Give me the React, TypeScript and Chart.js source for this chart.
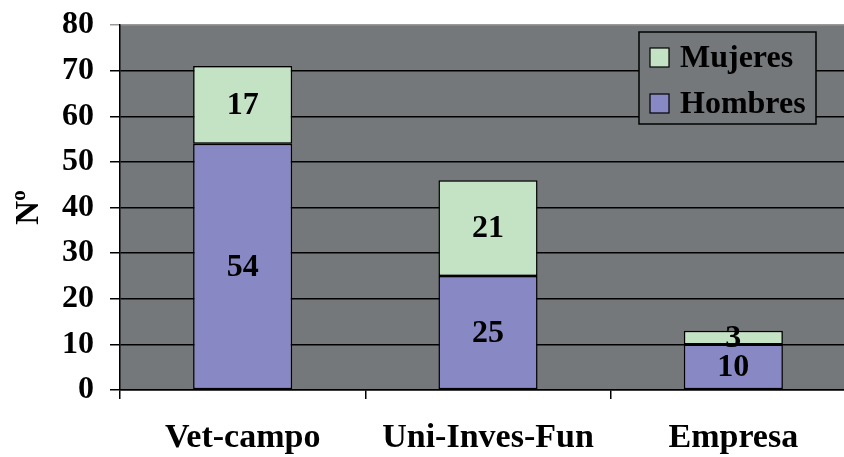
import React, { useEffect, useRef } from "react";
import { Chart, registerables } from "chart.js";

Chart.register(...registerables);

const categories = ["Vet-campo", "Uni-Inves-Fun", "Empresa"];
const hombres = [54, 25, 10];
const mujeres = [17, 21, 3];
const yTitle = "Nº";

const FONT = "'Liberation Serif', 'Times New Roman', serif";
const PLOT_BG = "#75787a";
const HOMBRES_COLOR = "#8889c4";
const MUJERES_COLOR = "#c3e3c4";

const bgPlugin = {
  id: "plotBg",
  beforeDraw(chart: any) {
    const { ctx, chartArea } = chart;
    ctx.save();
    ctx.fillStyle = PLOT_BG;
    ctx.fillRect(chartArea.left, chartArea.top, chartArea.right - chartArea.left, chartArea.bottom - chartArea.top);
    ctx.restore();
  },
};

const labelPlugin = {
  id: "segLabels",
  afterDatasetsDraw(chart: any) {
    const { ctx } = chart;
    ctx.save();
    ctx.font = `bold 32px ${FONT}`;
    ctx.fillStyle = "#000";
    ctx.textAlign = "center";
    ctx.textBaseline = "middle";
    chart.data.datasets.forEach((ds: any, di: number) => {
      const meta = chart.getDatasetMeta(di);
      meta.data.forEach((el: any, i: number) => {
        const cy = (el.y + el.base) / 2;
        ctx.fillText(String(ds.data[i]), el.x, cy + 1);
      });
    });
    ctx.restore();
  },
};

const legendPlugin = {
  id: "boxLegend",
  afterDraw(chart: any) {
    const { ctx, chartArea } = chart;
    const right = chartArea.right - 40;
    const top = chartArea.top + 7;
    const w = 177;
    const h = 92;
    const left = right - w;
    ctx.save();
    ctx.fillStyle = PLOT_BG;
    ctx.fillRect(left, top, w, h);
    ctx.strokeStyle = "#000";
    ctx.lineWidth = 1.5;
    ctx.strokeRect(left, top, w, h);
    const items = chart.data.datasets.map((d: any) => d).reverse();
    ctx.font = `bold 32px ${FONT}`;
    ctx.textBaseline = "middle";
    ctx.textAlign = "left";
    items.forEach((ds: any, i: number) => {
      const cy = top + 25.5 + i * 46;
      ctx.fillStyle = ds.backgroundColor;
      ctx.fillRect(left + 11, cy - 9.5, 19, 19);
      ctx.strokeStyle = "#000";
      ctx.lineWidth = 1.2;
      ctx.strokeRect(left + 11, cy - 9.5, 19, 19);
      ctx.fillStyle = "#000";
      ctx.fillText(ds.label, left + 41, cy + 1);
    });
    ctx.restore();
  },
};

export default function App() {
  const ref = useRef<HTMLCanvasElement>(null);
  useEffect(() => {
    if (!ref.current) return;
    const chart = new Chart(ref.current, {
      type: "bar",
      data: {
        labels: categories,
        datasets: [
          {
            label: "Hombres",
            data: hombres,
            backgroundColor: HOMBRES_COLOR,
            borderColor: "#000",
            borderWidth: 1.5,
            borderSkipped: false,
            categoryPercentage: 1,
            barPercentage: 0.404,
          },
          {
            label: "Mujeres",
            data: mujeres,
            backgroundColor: MUJERES_COLOR,
            borderColor: "#000",
            borderWidth: 1.5,
            borderSkipped: false,
            categoryPercentage: 1,
            barPercentage: 0.404,
          },
        ],
      },
      options: {
        responsive: false,
        animation: false,
        devicePixelRatio: 1,
        layout: { padding: { top: 25, left: 0, right: 0, bottom: 0 } },
        plugins: { legend: { display: false }, tooltip: { enabled: false } },
        scales: {
          x: {
            stacked: true,
            afterFit: (s: any) => {
              s.height = 67;
              s.paddingLeft = 0;
              s.paddingRight = 0;
            },
            grid: {
              drawOnChartArea: false,
              drawTicks: true,
              tickLength: 9,
              color: "#000",
              lineWidth: 1.5,
              offset: true,
            },
            border: { display: true, color: "#000", width: 1.5 },
            ticks: {
              color: "#000",
              padding: 19,
              font: { family: FONT, size: 34, weight: "bold" },
            },
          },
          y: {
            stacked: true,
            min: 0,
            max: 80,
            afterFit: (s: any) => {
              s.width = 120;
              s.paddingTop = 0;
              s.paddingBottom = 0;
            },
            grid: {
              color: (c: any) => (c.tick && c.tick.value === 80 ? "#9a9a9a" : "#000"),
              lineWidth: 1.5,
              tickLength: 10,
            },
            border: { display: true, color: "#000", width: 1.5 },
            ticks: {
              stepSize: 10,
              color: "#000",
              padding: 16,
              font: { family: FONT, size: 32, weight: "bold" },
            },
            title: {
              display: true,
              text: yTitle,
              color: "#000",
              font: { family: FONT, size: 33, weight: "bold" },
              padding: { top: 10, bottom: 0 },
            },
          },
        },
      },
      plugins: [bgPlugin, labelPlugin, legendPlugin],
    });
    return () => chart.destroy();
  }, []);
  return (
    <div style={{ position: "fixed", left: 0, top: 0, width: 844, height: 457, overflow: "hidden", background: "#fff" }}>
      <canvas ref={ref} width={856} height={457} style={{ display: "block", width: 856, height: 457 }} />
    </div>
  );
}
